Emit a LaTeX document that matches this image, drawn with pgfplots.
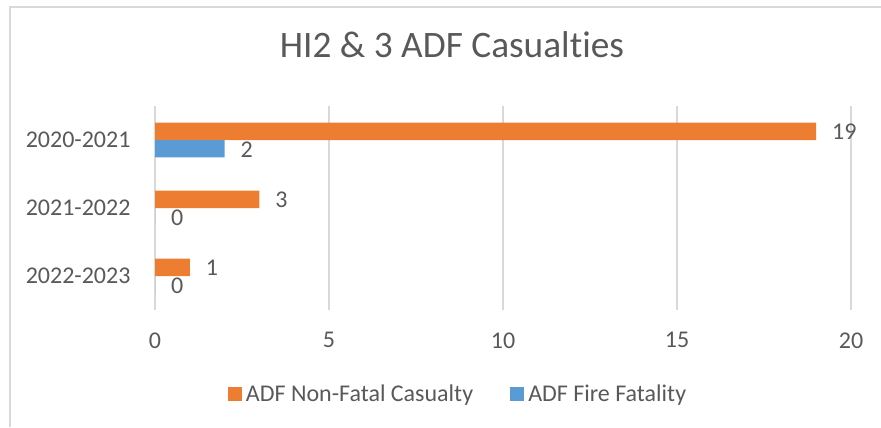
\documentclass[border=0pt]{standalone}
\usepackage{fontspec}
\setmainfont{Carlito}[RawFeature={-liga}]
\usepackage{pgfplots}
\pgfplotsset{compat=1.18}
\usepackage{pgfplotstable}
\definecolor{xlorange}{HTML}{ED7D31}
\definecolor{xlblue}{HTML}{5B9BD5}
\definecolor{xltext}{HTML}{595959}
\definecolor{xlgrid}{HTML}{D9D9D9}

\pgfplotstableread{
idx nonfatal fatal
0   19       2
1   3        0
2   1        0
}\casualties

\begin{document}
\begin{tikzpicture}
\useasboundingbox (0,0) rectangle (330.375pt,160.125pt);
% chart frame (cut at the right and bottom)
\draw[xlgrid, line width=0.6pt] (3.75pt,0) -- (3.75pt,157.5pt) -- (330.375pt,157.5pt);
\node[anchor=base, text=xltext, inner sep=0pt, font=\fontsize{14}{17}\selectfont]
  at (169.5pt,138.4pt) {HI2 \& 3 ADF Casualties};
\begin{axis}[at={(58.125pt,43.875pt)}, anchor=south west, scale only axis,
  width=261pt, height=76.5pt, clip=false,
  xbar, bar width=0.254,
  xmin=0, xmax=20, ymin=-0.5, ymax=2.5, y dir=reverse,
  xtick={0,5,10,15,20}, ytick={0,1,2},
  yticklabels={2020-2021,2021-2022,2022-2023},
  major tick length=0, xmajorgrids, grid style={xlgrid, line width=0.6pt},
  axis line style={draw=none},
  /pgf/number format/assume math mode=true,
  tick label style={font=\fontsize{9}{11}\selectfont, text=xltext},
  xticklabel style={anchor=north, inner sep=0pt, yshift=-8.25pt},
  yticklabel style={anchor=east, inner sep=0pt, xshift=-9pt},
  nodes near coords,
  nodes near coords style={font=\fontsize{9}{11}\selectfont, text=xltext,
    inner sep=0pt, anchor=west, xshift=5.8pt, yshift=-0.3pt},
  legend columns=2,
  legend style={at={(0.434,-0.417)}, anchor=center, draw=none, fill=none,
    font=\fontsize{9}{11}\selectfont, text=xltext,
    nodes={inner sep=0pt}, column sep=1.5pt,
    /tikz/every even column/.append style={column sep=13.9pt}},
  legend image code/.code={\fill[#1] (0pt,-2.3pt) rectangle (5.25pt,2.95pt);},
]
\addplot[draw=none, fill=xlorange, bar shift=-0.127] table[x=nonfatal, y=idx] {\casualties};
\addplot[draw=none, fill=xlblue, bar shift=0.127] table[x=fatal, y=idx] {\casualties};
\legend{ADF Non-Fatal Casualty, ADF Fire Fatality}
\end{axis}
\end{tikzpicture}
\end{document}
